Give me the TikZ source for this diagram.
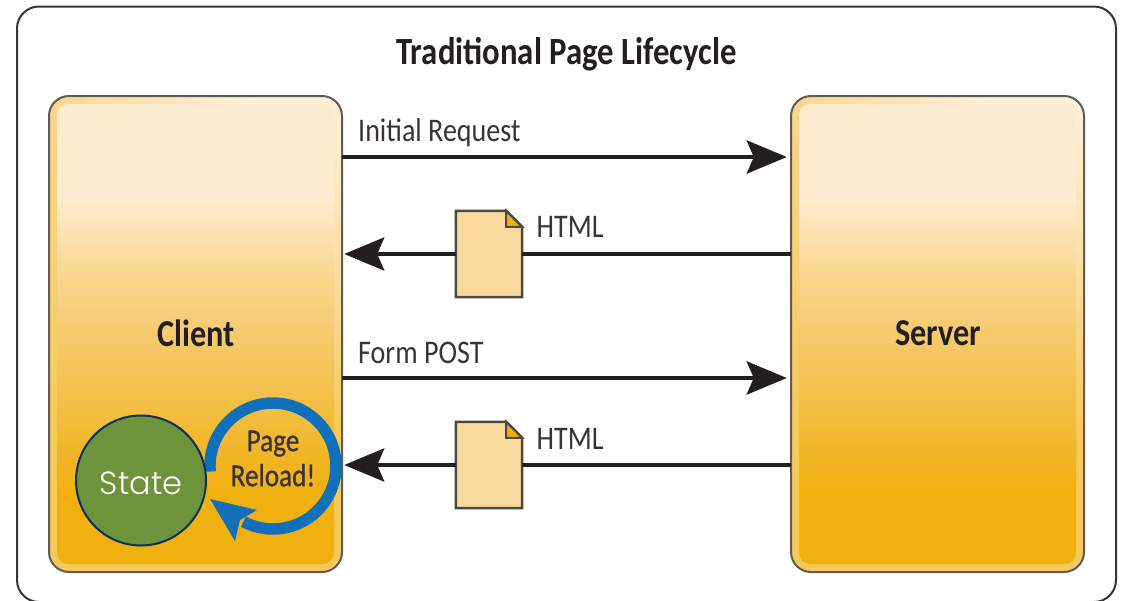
\documentclass[tikz,border=0pt]{standalone}
\usepackage{fontspec}
\setmainfont{Carlito}
\newfontfamily\statefont{Poppins Light}
\usetikzlibrary{arrows.meta}
\definecolor{ink}{HTML}{231F20}
\definecolor{edgegray}{HTML}{5F5B57}
\definecolor{docfill}{HTML}{FAD99C}
\definecolor{foldfill}{HTML}{F0B00F}
\definecolor{loopblue}{HTML}{1270BA}
\definecolor{stategreen}{HTML}{6E943B}
\definecolor{statenavy}{HTML}{0C2F5C}
\definecolor{rimdark}{HTML}{FAD68F}
\definecolor{rimlow}{HTML}{F6C95A}
\definecolor{rimlight}{HTML}{FDF0DC}
\pgfdeclareverticalshading{rimfill}{100bp}{
  color(0bp)=(rgb,255:red,246;green,201;blue,90);
  color(25bp)=(rgb,255:red,246;green,201;blue,90);
  color(40bp)=(rgb,255:red,246;green,201;blue,90);
  color(58bp)=(rgb,255:red,251;green,224;blue,168);
  color(70bp)=(rgb,255:red,253;green,236;blue,205);
  color(75bp)=(rgb,255:red,253;green,240;blue,220);
  color(100bp)=(rgb,255:red,253;green,240;blue,220)}
\pgfdeclareverticalshading{panelfill}{100bp}{
  color(0bp)=(rgb,255:red,240;green,176;blue,15);
  color(25bp)=(rgb,255:red,240;green,176;blue,15);
  color(33bp)=(rgb,255:red,240;green,176;blue,15);
  color(39.6bp)=(rgb,255:red,242;green,186;blue,53);
  color(50.4bp)=(rgb,255:red,246;green,203;blue,112);
  color(57.5bp)=(rgb,255:red,250;green,217;blue,149);
  color(64.6bp)=(rgb,255:red,253;green,236;blue,207);
  color(75bp)=(rgb,255:red,253;green,237;blue,208);
  color(100bp)=(rgb,255:red,253;green,237;blue,208)}
\tikzset{
  x=1pt,y=-1pt,
  frame/.style={draw=ink!90,line width=2pt,rounded corners=22pt,fill=white},
  rim/.style={minimum width=293pt,minimum height=476pt,rounded corners=20pt,shading=rimfill,inner sep=0pt},
  rimline/.style={minimum width=293pt,minimum height=476pt,rounded corners=20pt,draw=edgegray,line width=2pt,inner sep=0pt},
  panel/.style={minimum width=277pt,minimum height=460pt,rounded corners=11pt,shading=panelfill,inner sep=0pt},
  boxlabel/.style={font=\bfseries\fontsize{38}{38}\selectfont,text=ink,inner sep=0pt},
  title/.style={font=\bfseries\fontsize{38.5}{38.5}\selectfont,text=ink,inner sep=0pt},
  msg/.style={font=\fontsize{33}{33}\selectfont,text=ink!90,inner sep=0pt,anchor=base west},
  flow/.style={draw=ink,line width=4.5pt,-{Stealth[length=40pt,width=33pt,inset=7pt]}},
  line/.style={draw=ink,line width=4.5pt},
  doc/.style={minimum width=66pt,minimum height=86pt,inner sep=0pt,draw=none},
  reload/.style={font=\fontsize{32}{35}\selectfont,text=ink!90,align=center,inner sep=0pt},
  statebubble/.style={circle,draw=statenavy,line width=2pt,fill=stategreen,minimum size=130pt,inner sep=0pt,text=white,text height=27pt,text depth=0pt,font=\statefont\fontsize{32}{32}\selectfont},
}
\newcommand{\narrow}{\addfontfeature{FakeStretch=0.85}}
\newcommand{\narrowbold}{\addfontfeature{FakeStretch=0.85,FakeBold=0.8}}
\begin{document}
\begin{tikzpicture}
\useasboundingbox (0,0) rectangle (1127,600);
\fill[white] (0,0) rectangle (1127,600);
\draw[frame] (17,6.5) rectangle (1116,602);
\node[title] (title) at (566.5,54) {\narrow Traditional Page Lifecycle};

% Client and server
\node[rim] (client) at (195.5,334) {};
\node[rim] (server) at (937.5,334) {};
\foreach \b in {client,server}{
  \begin{scope}
    \clip[rounded corners=20pt] (\b.north west) rectangle (\b.south east);
    \shade[left color=rimdark,right color=rimlight] (\b.north west) rectangle ([xshift=200pt,yshift=-12pt]\b.north west);
    \shade[top color=rimdark,bottom color=rimlow] (\b.north west) rectangle ([xshift=12pt,yshift=-333pt]\b.north west);
  \end{scope}
}
\node[panel] (clientpanel) at (195.5,334) {};
\node[panel] (serverpanel) at (937.5,334) {};
\node[rimline] (clientline) at (195.5,334) {};
\node[rimline] (serverline) at (937.5,334) {};
\node[boxlabel] (clientlabel) at (196,333) {\narrow Client};
\node[boxlabel] (serverlabel) at (938,333) {\narrow Server};

% Connector anchors
\coordinate (a1) at (0,157);
\coordinate (a2) at (0,254);
\coordinate (a3) at (0,378);
\coordinate (a4) at (0,465);

% Documents
\node[doc] (doca) at (489,254) {};
\node[doc] (docb) at (489,465) {};
\foreach \d in {doca,docb}{
  \draw[draw=edgegray!70!ink,line width=2.5pt,fill=docfill,line join=miter]
    (\d.north west) -- ([xshift=-16pt]\d.north east) -- ([yshift=-16pt]\d.north east) -- (\d.south east) -- (\d.south west) -- cycle;
  \draw[draw=edgegray!70!ink,line width=2pt,fill=foldfill,line join=miter]
    ([xshift=-16pt]\d.north east) -- ([yshift=-16pt]\d.north east) -- ([xshift=-16pt,yshift=-16pt]\d.north east) -- cycle;
}

% Connectors
\draw[flow] (client.east |- a1) -- ([xshift=-4pt]server.west |- a1);
\draw[line] (server.west |- a2) -- (doca.east);
\draw[flow] (doca.west) -- ([xshift=2pt]client.east |- a2);
\draw[flow] (client.east |- a3) -- ([xshift=-4pt]server.west |- a3);
\draw[line] (server.west |- a4) -- (docb.east);
\draw[flow] (docb.west) -- ([xshift=2pt]client.east |- a4);

% Labels
\node[msg] (m1) at (358,141) {\narrow Initial Request};
\node[msg] (m2) at (536.5,237) {\narrow HTML};
\node[msg] (m3) at (358,363) {\narrow Form POST};
\node[msg] (m4) at (536.5,449) {\narrow HTML};

% Reload loop
\draw[draw=loopblue,line width=11.5pt] (210.2,471.5) arc[start angle=185,end angle=-118,radius=63pt];
\fill[loopblue] (210,499) -- (257,510) -- (240,520) -- (235,541) -- cycle;
\node[reload] (reload) at (273,458.5) {\narrowbold Page\\\narrowbold Reload!};

% State
\node[statebubble] (state) at (141,480.5) {State};
\end{tikzpicture}
\end{document}
